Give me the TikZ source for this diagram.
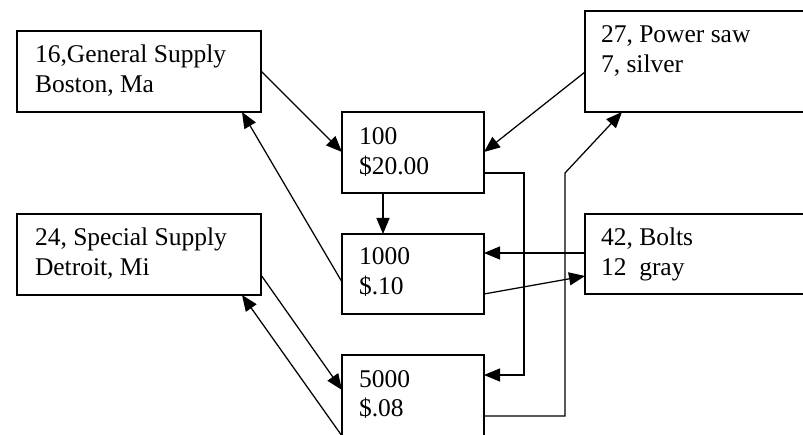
\documentclass[tikz,border=0pt]{standalone}
\usepackage{fontspec}
\setmainfont{Liberation Serif}
\usetikzlibrary{arrows.meta}
\tikzset{
  box/.style={draw, line width=1.5pt, rectangle, inner sep=0pt, outer sep=0pt, anchor=north west},
  txt/.style={anchor=base west, inner sep=0pt, outer sep=0pt, font=\fontsize{25.5}{29.5}\selectfont},
  arr/.style={line width=1.25pt, -{Triangle[length=16pt,width=13pt]}},
  ln/.style={line width=1.25pt}
}
\newcommand{\twolines}[2]{\begin{tabular}[t]{@{}l@{}}#1\\#2\end{tabular}}
\begin{document}
\begin{tikzpicture}[x=1pt,y=1pt]
\clip (0,0) rectangle (803,434);
\fill[white] (0,0) rectangle (803,434);
% boxes
\node[box, minimum width=244pt, minimum height=81pt] (gs) at (17,403) {};
\node[box, minimum width=260pt, minimum height=101pt] (ps) at (585,423) {};
\node[box, minimum width=142pt, minimum height=81pt] (b100) at (342,322) {};
\node[box, minimum width=142pt, minimum height=80pt] (b1000) at (342,200) {};
\node[box, minimum width=142pt, minimum height=81pt] (b5000) at (342,79) {};
\node[box, minimum width=244pt, minimum height=81pt] (ss) at (17,220) {};
\node[box, minimum width=260pt, minimum height=80pt] (bo) at (585,220) {};
% texts
\node[txt] (tgs) at (35,371) {\twolines{16,General Supply}{Boston, Ma}};
\node[txt] (tps) at (601,391) {\twolines{27, Power saw}{7, silver}};
\node[txt] (t100) at (359,289) {\twolines{100}{\$20.00}};
\node[txt] (t1000) at (359,169) {\twolines{1000}{\$.10}};
\node[txt] (t5000) at (359,47) {\twolines{5000}{\$.08}};
\node[txt] (tss) at (35,188) {\twolines{24, Special Supply}{Detroit, Mi}};
\node[txt] (tbo) at (601,188) {\twolines{42, Bolts}{12\ \ gray}};
% connectors
\draw[arr] ([yshift=-40pt]gs.north east) -- ([yshift=-40pt]b100.north west);
\draw[arr] ([yshift=-48pt]b1000.north west) -- ([xshift=-19pt]gs.south east);
\draw[arr] ([yshift=-61pt]ps.north west) -- ([yshift=-40pt]b100.north east);
\draw[arr] ([xshift=41pt]b100.south west) -- ([xshift=41pt]b1000.north west);
\draw[arr] ([yshift=-61pt]b100.north east) -- ++(40pt,0pt) |- ([yshift=-20pt]b5000.north east);
\draw[arr] ([yshift=-61pt]b5000.north east) -- ++(81pt,0pt) -- ++(0pt,243pt) -- ([xshift=37pt]ps.south west);
\draw[arr] ([yshift=-39pt]bo.north west) -- ([yshift=-19pt]b1000.north east);
\draw[arr] ([yshift=-60pt]b1000.north east) -- ([yshift=-62pt]bo.north west);
\draw[arr] ([yshift=-61pt]ss.north east) -- ([yshift=-35pt]b5000.north west);
\draw[arr] (b5000.south west) -- ([xshift=-19pt]ss.south east);
\end{tikzpicture}
\end{document}
